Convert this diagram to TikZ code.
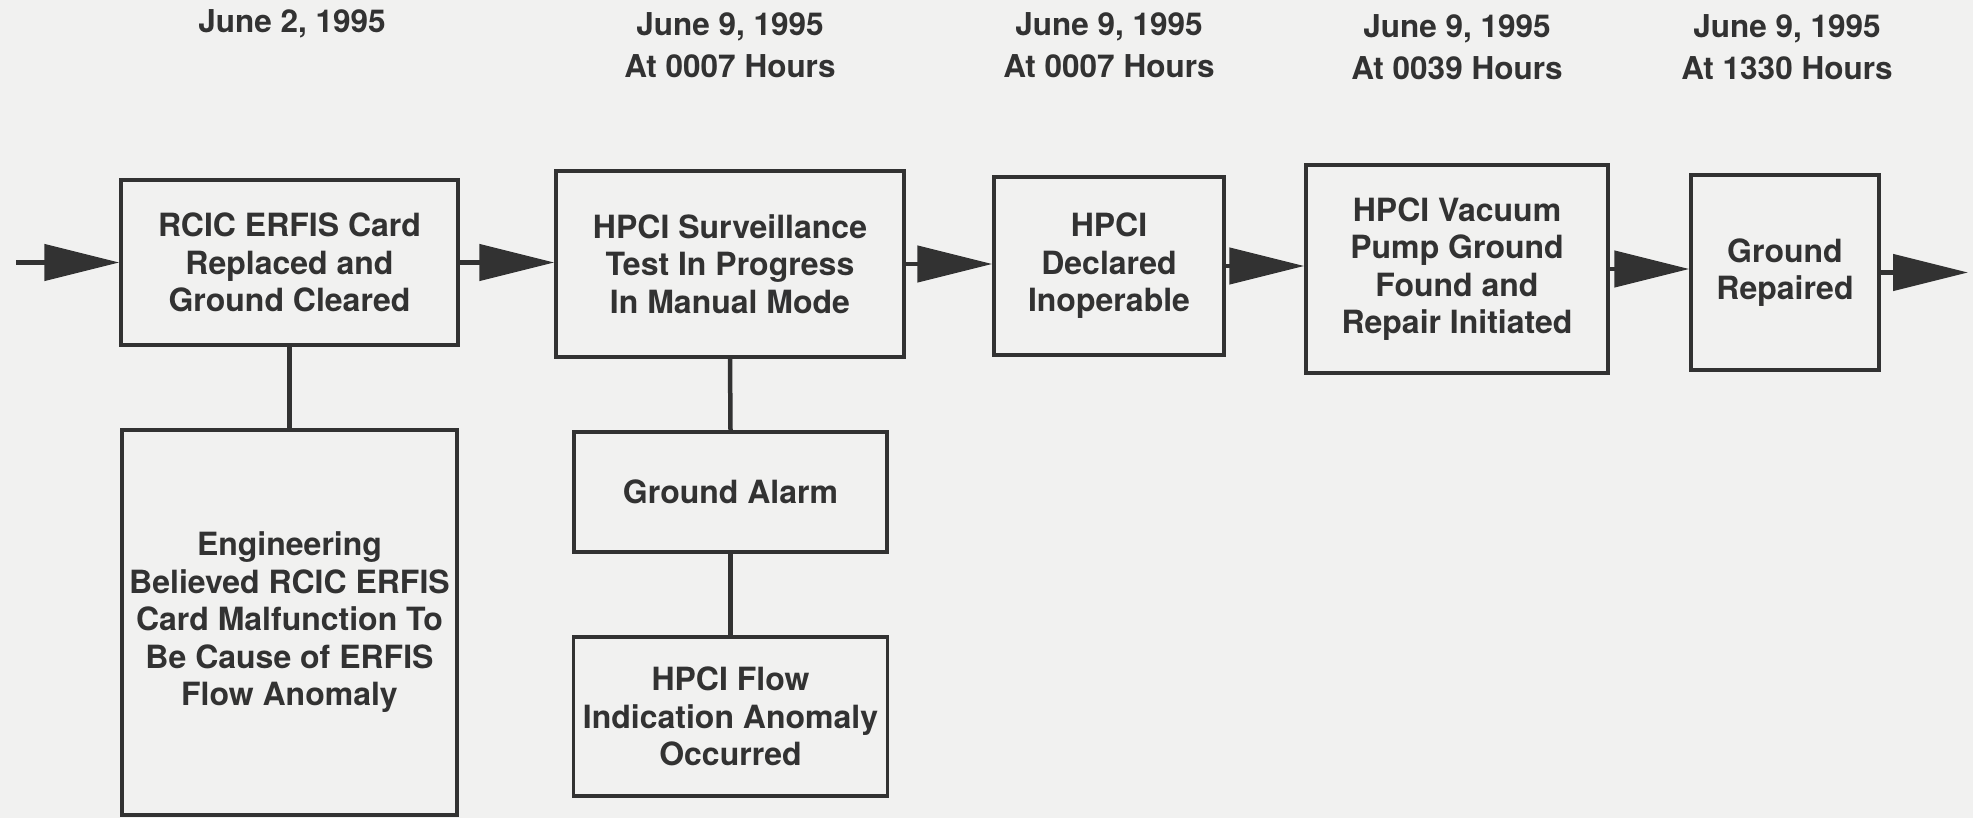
\documentclass[tikz,border=0pt]{standalone}
\usepackage{fontspec}
\setmainfont{TeX Gyre Heros}
\usetikzlibrary{arrows.meta}
\definecolor{paper}{RGB}{241,241,240}
\definecolor{ink}{RGB}{50,50,50}
\begin{document}
\begin{tikzpicture}[x=1pt,y=-1pt,
  eventbox/.style={draw=ink, line width=3.5pt, inner sep=0pt, align=center,
    text=ink, font=\fontsize{32}{37.5}\selectfont\bfseries},
  datelabel/.style={inner sep=0pt, align=center, text=ink,
    font=\fontsize{31.5}{42}\selectfont\bfseries},
  flow/.style={draw=ink, line width=4.5pt, -{Triangle[length=75pt,width=36pt]}},
  link/.style={draw=ink, line width=4.5pt}]
% page
\fill[paper] (0,0) rectangle (1973,818);

% dates above the timeline
\node[datelabel] (d1) at (292,24) {June 2, 1995};
\node[datelabel] (d2) at (730,45) {June 9, 1995\\At 0007 Hours};
\node[datelabel] (d3) at (1109,45) {June 9, 1995\\At 0007 Hours};
\node[datelabel] (d4) at (1457,47) {June 9, 1995\\At 0039 Hours};
\node[datelabel] (d5) at (1787,47) {June 9, 1995\\At 1330 Hours};

% main sequence of events
\node[eventbox, minimum width=337pt, minimum height=165pt] (b1) at (289.5,262.5)
  {RCIC ERFIS Card\\Replaced and\\Ground Cleared};
\node[eventbox, minimum width=348pt, minimum height=186pt] (b2) at (730,264)
  {HPCI Surveillance\\Test In Progress\\In Manual Mode};
\node[eventbox, minimum width=230pt, minimum height=178pt] (b3) at (1109,266)
  {HPCI\\Declared\\Inoperable};
\node[eventbox, minimum width=302pt, minimum height=208pt] (b4) at (1457,269)
  {HPCI Vacuum\\Pump Ground\\Found and\\Repair Initiated};
\node[eventbox, minimum width=188pt, minimum height=195pt] (b5) at (1785,272.5)
  {Ground\\Repaired};

% related conditions below
\node[eventbox, minimum width=335pt, minimum height=385pt] (e1) at (289.5,622.5)
  {Engineering\\Believed RCIC ERFIS\\Card Malfunction To\\Be Cause of ERFIS\\Flow Anomaly};
\node[eventbox, minimum width=313pt, minimum height=120pt] (g1) at (730.5,492)
  {Ground Alarm};
\node[eventbox, minimum width=314pt, minimum height=159pt] (f1) at (730.5,716.5)
  {HPCI Flow\\Indication Anomaly\\Occurred};

% timeline arrows
\coordinate (start) at (16,262.5);
\coordinate (finish) at (1968,272.5);
\draw[flow] (start) -- (b1.west);
\draw[flow] (b1.east) -- (b1.east -| b2.west);
\draw[flow] (b2.east) -- (b2.east -| b3.west);
\draw[flow] (b3.east) -- (b3.east -| b4.west);
\draw[flow] (b4.east) -- (b4.east -| b5.west);
\draw[flow] (b5.east) -- (finish);

% vertical links
\draw[link] (b1.south) -- (e1.north);
\draw[link] (b2.south) -- (g1.north);
\draw[link] (g1.south) -- (f1.north);
\end{tikzpicture}
\end{document}
